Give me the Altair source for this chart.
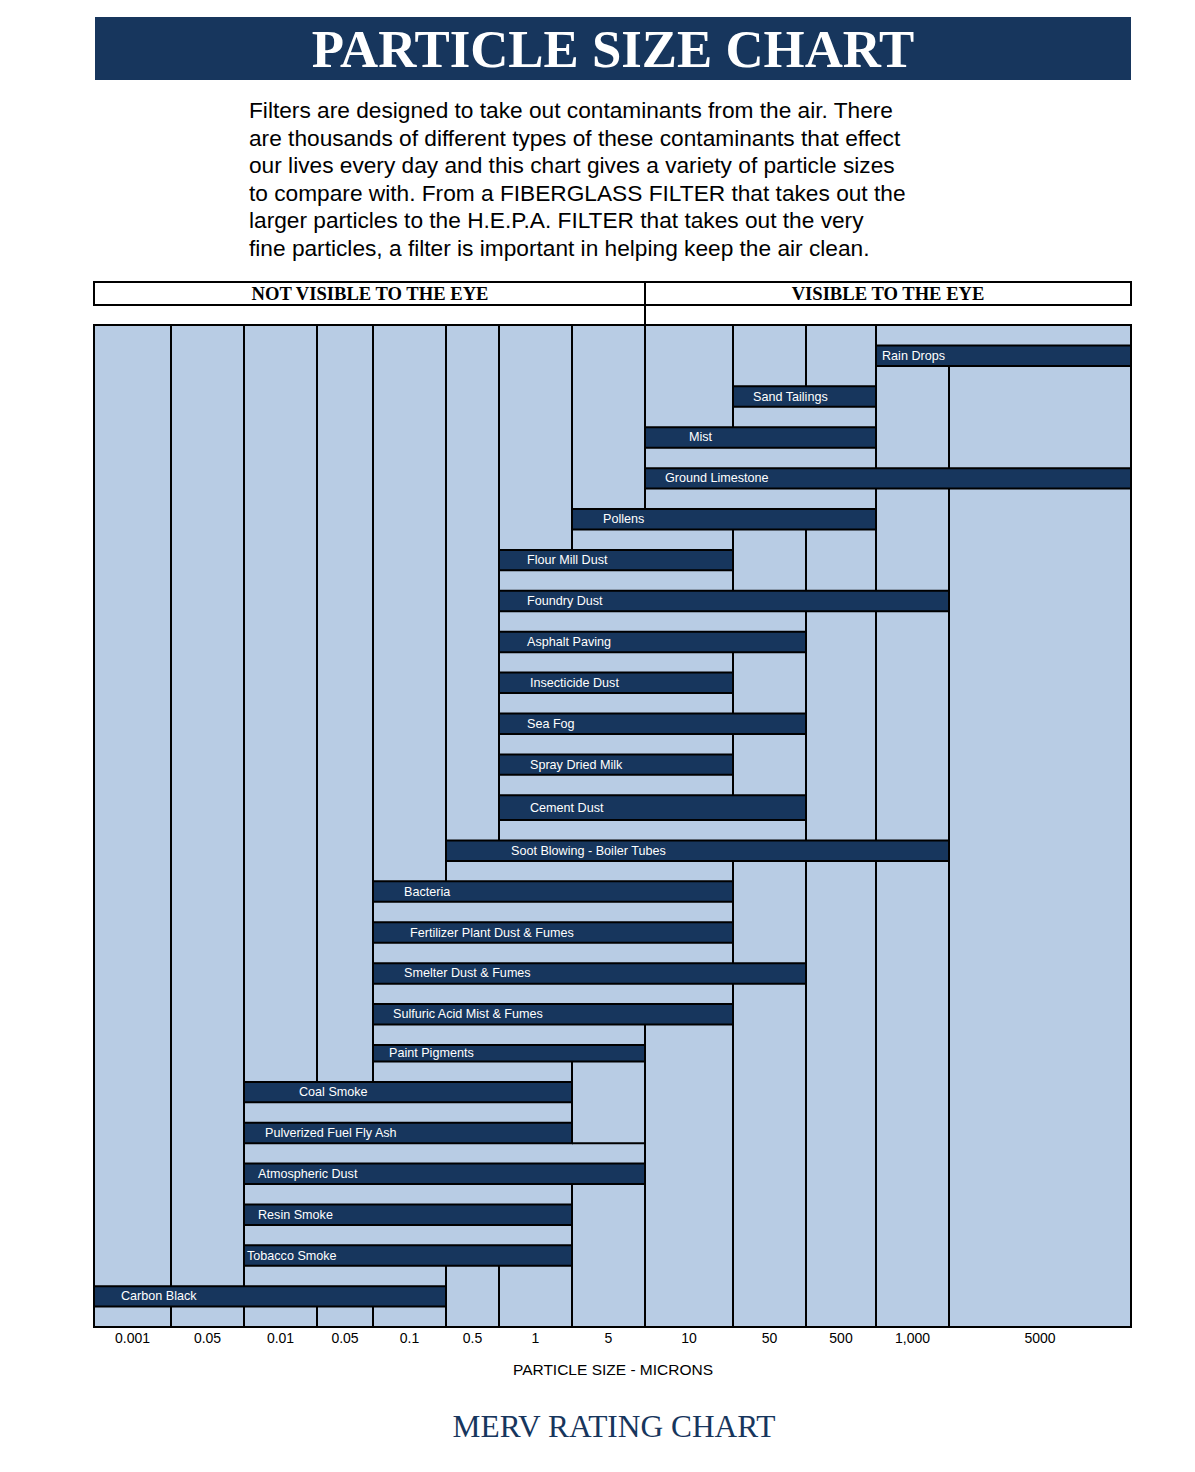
import altair as alt
import pandas as pd

# ---------------- texts ----------------
TITLE = "PARTICLE SIZE CHART"
INTRO = [
    "Filters are designed to take out contaminants from the air. There",
    "are thousands of different types of these contaminants that effect",
    "our lives every day and this chart gives a variety of particle sizes",
    "to compare with. From a FIBERGLASS FILTER that takes out the",
    "larger particles to the H.E.P.A. FILTER that takes out the very",
    "fine particles, a filter is important in helping keep the air clean.",
]
HEAD_LEFT = "NOT VISIBLE TO THE EYE"
HEAD_RIGHT = "VISIBLE TO THE EYE"
SIZE_LABELS = ["0.001", "0.05", "0.01", "0.05", "0.1", "0.5", "1", "5",
               "10", "50", "500", "1,000", "5000"]
X_TITLE = "PARTICLE SIZE - MICRONS"
FOOTER = "MERV RATING CHART"

# ---------------- data (column index where each range starts / ends) ----------------
PARTICLES = [
    "Rain Drops", "Sand Tailings", "Mist", "Ground Limestone", "Pollens",
    "Flour Mill Dust", "Foundry Dust", "Asphalt Paving", "Insecticide Dust",
    "Sea Fog", "Spray Dried Milk", "Cement Dust", "Soot Blowing - Boiler Tubes",
    "Bacteria", "Fertilizer Plant Dust & Fumes", "Smelter Dust & Fumes",
    "Sulfuric Acid Mist & Fumes", "Paint Pigments", "Coal Smoke",
    "Pulverized Fuel Fly Ash", "Atmospheric Dust", "Resin Smoke",
    "Tobacco Smoke", "Carbon Black",
]
START_COL = [11, 9, 8, 8, 7, 6, 6, 6, 6, 6, 6, 6, 5, 4, 4, 4, 4, 4, 2, 2, 2, 2, 2, 0]
END_COL = [13, 11, 11, 13, 11, 9, 12, 10, 9, 10, 9, 10, 12, 9, 9, 10, 9, 8, 7, 7, 8, 7, 7, 5]

# merged (light) table strips in the gap above particle row g
STRIP_GAP = [0, 2, 3, 4, 5, 6, 7, 8, 9, 10, 11, 12, 13, 14, 15, 16, 17, 18, 19, 20, 21, 22, 23]
STRIP_LO = [11, 9, 8, 8, 7, 6, 6, 6, 6, 6, 6, 6, 5, 4, 4, 4, 4, 4, 2, 2, 2, 2, 2]
STRIP_HI = [13, 11, 11, 11, 9, 9, 10, 9, 9, 9, 9, 10, 9, 9, 9, 9, 8, 7, 7, 8, 7, 7, 5]

# ---------------- layout / style ----------------
COL_EDGES_PX = [94, 171, 244, 317, 373, 446, 499, 572, 645, 733, 806, 876, 949, 1131]
ROW_KNOTS = [0, 23, 24, 35, 36, 49]
ROW_KNOTS_PX = [325, 795.3, 820, 1045, 1061.5, 1327]
LABEL_INDENT = [6, 20, 44, 20, 31, 28, 28, 28, 31, 28, 31, 31, 65, 31, 37, 31, 20, 16,
                55, 21, 14, 14, 3, 27]
DARK = "#17365d"
LIGHT = "#b8cce4"
SERIF = "Liberation Serif"
SANS = "Liberation Sans"
M = 8  # page margin
NCOL = len(SIZE_LABELS)
NSLOT = 2 * len(PARTICLES) + 1

X_SCALE = alt.Scale(domain=list(range(NCOL + 1)), range=[p - M for p in COL_EDGES_PX],
                    nice=False, zero=False)
Y_SCALE = alt.Scale(domain=ROW_KNOTS, range=[p - M for p in ROW_KNOTS_PX],
                    nice=False, zero=False)


def X(f):
    return alt.X(f, type="quantitative", scale=X_SCALE, axis=None)


def Y(f):
    return alt.Y(f, type="quantitative", scale=Y_SCALE, axis=None)


# ---------------- derived tables ----------------
bars = pd.DataFrame({
    "idx": list(range(len(PARTICLES))),
    "name": PARTICLES,
    "start": START_COL,
    "end": END_COL,
})
bars["y0"] = 2 * bars["idx"] + 1
bars["y1"] = bars["y0"] + 1
bars["ym"] = bars["y0"] + 0.5

strip_at = {g: (lo, hi) for g, lo, hi in zip(STRIP_GAP, STRIP_LO, STRIP_HI)}

vrows = []
for b in range(1, NCOL):
    run = None
    for s in range(NSLOT):
        absent = (s % 2 == 0 and (s // 2) in strip_at
                  and strip_at[s // 2][0] < b < strip_at[s // 2][1])
        if not absent and run is None:
            run = s
        if absent and run is not None:
            vrows.append((b, run, s))
            run = None
    if run is not None:
        vrows.append((b, run, NSLOT))
vlines = pd.DataFrame(vrows, columns=["b", "s0", "s1"])


def uncovered(lo, hi, a, b):
    segs = []
    if lo < a:
        segs.append((lo, min(hi, a)))
    if hi > b:
        segs.append((max(lo, b), hi))
    return segs


hrows = []
for g, (lo, hi) in strip_at.items():
    if g >= 1:
        for a, b in uncovered(lo, hi, START_COL[g - 1], END_COL[g - 1]):
            hrows.append((2 * g, a, b))
    if g < len(PARTICLES):
        for a, b in uncovered(lo, hi, START_COL[g], END_COL[g]):
            hrows.append((2 * g + 1, a, b))
hlines = pd.DataFrame(hrows if hrows else [(0, 0, 0)], columns=["e", "a", "b"])

frame = pd.DataFrame({"a": [0], "b": [NCOL], "y0": [0], "y1": [NSLOT]})
ticks = pd.DataFrame({"lab": SIZE_LABELS, "c": [i + 0.5 for i in range(NCOL)]})
one = pd.DataFrame({"k": [0]})

# ---------------- layers ----------------
banner = alt.Chart(one).mark_rect(color=DARK).encode(
    x=alt.value(95 - M), x2=alt.value(1131 - M), y=alt.value(17 - M), y2=alt.value(80 - M))
title = alt.Chart(one).mark_text(
    text=TITLE, font=SERIF, fontWeight="bold", fontSize=52.8, color="white",
    align="center", baseline="middle").encode(x=alt.value(613 - M), y=alt.value(51 - M))
intro = alt.Chart(one).mark_text(
    font=SANS, fontSize=22.7, color="black", align="left", baseline="alphabetic",
    lineHeight=27.6).encode(text=alt.value(INTRO), x=alt.value(249 - M), y=alt.value(118 - M))

head_box = alt.Chart(frame).mark_rect(fill="white", stroke="black", strokeWidth=2).encode(
    x=X("a"), x2="b", y=alt.value(282 - M), y2=alt.value(305 - M))
head_div = alt.Chart(pd.DataFrame({"b": [8]})).mark_rule(color="black", strokeWidth=2).encode(
    x=X("b"), y=alt.value(282 - M), y2=alt.value(325 - M))
head_l = alt.Chart(one).mark_text(
    text=HEAD_LEFT, font=SERIF, fontWeight="bold", fontSize=18.6, color="black",
    align="center", baseline="middle").encode(x=alt.value(370 - M), y=alt.value(294 - M))
head_r = alt.Chart(one).mark_text(
    text=HEAD_RIGHT, font=SERIF, fontWeight="bold", fontSize=18.6, color="black",
    align="center", baseline="middle").encode(x=alt.value(888 - M), y=alt.value(294 - M))

bg = alt.Chart(frame).mark_rect(fill=LIGHT, stroke="black", strokeWidth=2).encode(
    x=X("a"), x2="b", y=Y("y0"), y2="y1")
vl = alt.Chart(vlines).mark_rule(color="black", strokeWidth=2).encode(
    x=X("b"), y=Y("s0"), y2="s1")
hl = alt.Chart(hlines).mark_rule(color="black", strokeWidth=2).encode(
    x=X("a"), x2="b", y=Y("e"))
bar = alt.Chart(bars).mark_rect(fill=DARK, stroke="black", strokeWidth=2).encode(
    x=X("start"), x2="end", y=Y("y0"), y2="y1")

labels = []
for k, ind in enumerate(LABEL_INDENT):
    labels.append(
        alt.Chart(bars).transform_filter(alt.datum.idx == k).mark_text(
            font=SANS, fontSize=12.6, color="white", align="left", baseline="middle",
            dx=ind).encode(x=X("start"), y=Y("ym"), text="name:N"))

tick_txt = alt.Chart(ticks).mark_text(
    font=SANS, fontSize=14, color="black", align="center", baseline="middle").encode(
    x=X("c"), y=alt.value(1338.5 - M), text="lab:N")
xtitle = alt.Chart(one).mark_text(
    text=X_TITLE, font=SANS, fontSize=15.5, color="black", align="center",
    baseline="middle").encode(x=alt.value(613 - M), y=alt.value(1369.5 - M))
footer = alt.Chart(one).mark_text(
    text=FOOTER, font=SERIF, fontSize=31.4, color=DARK, align="center",
    baseline="middle").encode(x=alt.value(614 - M), y=alt.value(1428 - M))

chart = alt.layer(
    banner, title, intro, head_box, head_div, head_l, head_r,
    bg, vl, hl, bar, *labels, tick_txt, xtitle, footer,
).properties(
    width=1179, height=1452, padding=0, autosize="none",
).configure_view(stroke=None)

chart.save("out.html", embed_options={"renderer": "svg", "actions": False})
